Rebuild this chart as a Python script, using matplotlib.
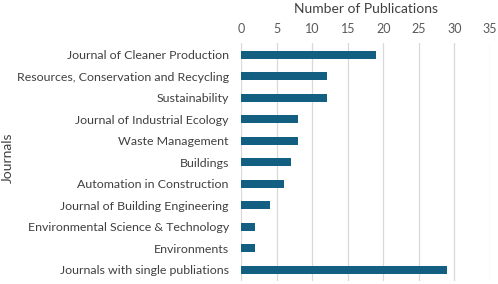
import matplotlib
matplotlib.use("Agg")
import matplotlib.pyplot as plt

journals = [
    "Journal of Cleaner Production",
    "Resources, Conservation and Recycling",
    "Sustainability",
    "Journal of Industrial Ecology",
    "Waste Management",
    "Buildings",
    "Automation in Construction",
    "Journal of Building Engineering",
    "Environmental Science & Technology",
    "Environments",
    "Journals with single publiations",
]
counts = [19, 12, 12, 8, 8, 7, 6, 4, 2, 2, 29]
xticks = [0, 5, 10, 15, 20, 25, 30, 35]

plt.rcParams['font.family'] = ['Lato', 'DejaVu Sans']

fig = plt.figure(figsize=(4.98, 2.84), dpi=100)
ax = fig.add_axes([0.4845, 0.0106, 0.4995, 0.8384])

pos = list(range(len(journals)))
ax.barh(pos, counts, height=0.38, color="#125f82", zorder=3)

ax.set_ylim(10.52, -0.55)
ax.set_xlim(0, 35)
ax.set_xticks(xticks)
ax.set_yticks(pos)
ax.set_yticklabels(journals, fontsize=8.9, color="#404040")
ax.xaxis.tick_top()
ax.xaxis.set_label_position("top")
ax.tick_params(axis="x", labelsize=9, colors="#595959", length=0, pad=6)
ax.tick_params(axis="y", length=0, pad=9)
ax.grid(axis="x", color="#d9d9d9", linewidth=0.9, zorder=0)
for s in ax.spines.values():
    s.set_visible(False)

ax.set_xlabel("Number of Publications", fontsize=10, color="#404040", labelpad=7)
fig.text(0.016, 0.445, "Journals", rotation=90, fontsize=10, color="#404040",
         ha="center", va="center")

fig.savefig("out.png", dpi=100)
